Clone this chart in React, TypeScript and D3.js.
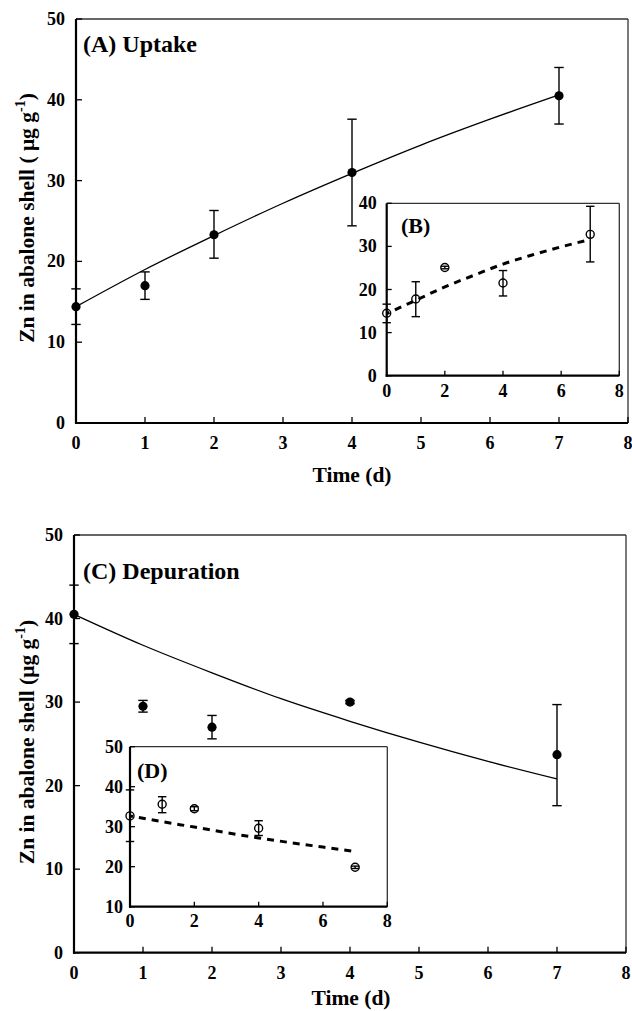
import React from 'react';
import * as d3 from 'd3';

// ---------- data ----------
const days = [0, 1, 2, 4, 7];
const fitDays = [0, 1, 2, 3, 4, 5, 6, 7];

// (A) Uptake – whole shell, filled circles
const uptakeMean = [14.4, 17.0, 23.3, 31.0, 40.5];
const uptakeUpper = [16.6, 18.7, 26.3, 37.6, 44.0];
const uptakeLower = [12.2, 15.3, 20.4, 24.4, 37.0];
const uptakeFit = [14.4, 19.0, 23.2, 27.2, 30.9, 34.4, 37.6, 40.6];

// (B) inset – open circles, dashed fit
const insetBMean = [14.5, 17.8, 25.1, 21.5, 32.8];
const insetBUpper = [16.6, 21.8, 25.4, 24.4, 39.3];
const insetBLower = [12.3, 13.7, 24.8, 18.5, 26.4];
const insetBFit = [14.4, 17.5, 20.6, 23.3, 25.9, 28.0, 29.9, 31.6];

// (C) Depuration – filled circles
const depMean = [40.5, 29.5, 27.0, 30.0, 23.7];
const depUpper = [44.0, 30.2, 28.4, 30.2, 29.7];
const depLower = [37.0, 28.8, 25.6, 29.8, 17.6];
const depFit = [40.5, 36.8, 33.5, 30.4, 27.7, 25.2, 22.9, 20.8];

// (D) inset – open circles, dashed fit
const insetDMean = [32.7, 35.6, 34.5, 29.6, 19.85];
const insetDUpper = [39.2, 37.5, 35.0, 31.5, 20.15];
const insetDLower = [26.3, 33.5, 34.0, 27.8, 19.55];
const insetDFit = [32.7, 31.25, 29.9, 28.5, 27.2, 26.0, 24.9, 23.8];

// ticks
const mainXTicks = [0, 1, 2, 3, 4, 5, 6, 7, 8];
const mainYTicks = [0, 10, 20, 30, 40, 50];
const insetXTicks = [0, 2, 4, 6, 8];
const insetBYTicks = [0, 10, 20, 30, 40];
const insetDYTicks = [10, 20, 30, 40, 50];

const FONT = '"Liberation Serif", "Times New Roman", serif';

type PanelCfg = {
  left: number; right: number; top: number; bottom: number;
  xDomain: [number, number]; yDomain: [number, number];
  xTicks: number[]; yTicks: number[];
  xLabelDy: number; yLabelDx: number;
  tickFont: number; tickLen: number;
  mean: number[]; upper: number[]; lower: number[];
  fit: number[]; dashed: boolean; open: boolean;
  capHalf: number; r: number;
  title: string; titleX: number; titleY: number; titleFont: number;
  fillBg: boolean;
};

function Panel({ c }: { c: PanelCfg }) {
  const x = d3.scaleLinear().domain(c.xDomain).range([c.left, c.right]);
  const y = d3.scaleLinear().domain(c.yDomain).range([c.bottom, c.top]);
  const line = d3
    .line<number>()
    .x((_, i) => x(fitDays[i]))
    .y((d) => y(d))
    .curve(d3.curveMonotoneX);
  return (
    <g>
      {c.fillBg && (
        <rect x={c.left} y={c.top} width={c.right - c.left} height={c.bottom - c.top} fill="#fff" />
      )}
      {/* frame: thin top/right */}
      <line x1={c.left} y1={c.top} x2={c.right} y2={c.top} stroke="#333" strokeWidth={1.3} />
      <line x1={c.right} y1={c.top} x2={c.right} y2={c.bottom} stroke="#333" strokeWidth={1.3} />
      {/* fit */}
      <path
        d={line(c.fit) || ''}
        fill="none"
        stroke="#000"
        strokeWidth={c.dashed ? 3 : 1.3}
        strokeDasharray={c.dashed ? '7 6' : undefined}
        strokeDashoffset={c.dashed ? 4 : undefined}
      />
      {/* error bars */}
      {days.map((d, i) => {
        const px = x(d);
        return (
          <g key={'e' + i} stroke="#000" strokeWidth={1.4}>
            <line x1={px} x2={px} y1={y(c.upper[i])} y2={y(c.lower[i])} />
            <line x1={px - c.capHalf} x2={px + c.capHalf} y1={y(c.upper[i])} y2={y(c.upper[i])} />
            <line x1={px - c.capHalf} x2={px + c.capHalf} y1={y(c.lower[i])} y2={y(c.lower[i])} />
          </g>
        );
      })}
      {/* markers */}
      {days.map((d, i) => (
        <circle
          key={'m' + i}
          cx={x(d)}
          cy={y(c.mean[i])}
          r={c.r}
          fill={c.open ? 'none' : '#000'}
          stroke="#000"
          strokeWidth={c.open ? 1.4 : 0}
        />
      ))}
      {/* axes: thick left/bottom */}
      <line x1={c.left} y1={c.top} x2={c.left} y2={c.bottom + 1} stroke="#000" strokeWidth={2.2} />
      <line x1={c.left - 1} y1={c.bottom} x2={c.right} y2={c.bottom} stroke="#000" strokeWidth={2.2} />
      {c.xTicks.map((t) => (
        <g key={'xt' + t}>
          <line x1={x(t)} x2={x(t)} y1={c.bottom} y2={c.bottom - c.tickLen} stroke="#000" strokeWidth={1.3} />
          <text
            x={x(t)}
            y={c.bottom + c.xLabelDy}
            textAnchor="middle"
            fontFamily={FONT}
            fontWeight="bold"
            fontSize={c.tickFont}
          >
            {t}
          </text>
        </g>
      ))}
      {c.yTicks.map((t) => (
        <g key={'yt' + t}>
          <line x1={c.left} x2={c.left + c.tickLen} y1={y(t)} y2={y(t)} stroke="#000" strokeWidth={1.3} />
          <text
            x={c.left - c.yLabelDx}
            y={y(t) + 6}
            textAnchor="end"
            fontFamily={FONT}
            fontWeight="bold"
            fontSize={c.tickFont}
          >
            {t}
          </text>
        </g>
      ))}
      <text x={c.titleX} y={c.titleY} fontFamily={FONT} fontWeight="bold" fontSize={c.titleFont}>
        {c.title}
      </text>
    </g>
  );
}

function YLabel({ cx, cy, spaced }: { cx: number; cy: number; spaced: boolean }) {
  return (
    <text
      transform={`translate(${cx},${cy}) rotate(-90)`}
      textAnchor="middle"
      fontFamily={FONT}
      fontWeight="bold"
      fontSize={21.5}
    >
      <tspan>{spaced ? 'Zn in abalone shell ( μg g' : 'Zn in abalone shell (μg g'}</tspan>
      <tspan dy={-9} fontSize={14}>-1</tspan>
      <tspan dy={9}>)</tspan>
    </text>
  );
}

export default function App() {
  const A: PanelCfg = {
    left: 76, right: 628, top: 19, bottom: 423,
    xDomain: [0, 8], yDomain: [0, 50], xTicks: mainXTicks, yTicks: mainYTicks,
    xLabelDy: 26, yLabelDx: 11, tickFont: 18, tickLen: 6,
    mean: uptakeMean, upper: uptakeUpper, lower: uptakeLower, fit: uptakeFit,
    dashed: false, open: false, capHalf: 4.7, r: 4.6,
    title: '(A) Uptake', titleX: 83, titleY: 52, titleFont: 24, fillBg: false,
  };
  const B: PanelCfg = {
    left: 386.7, right: 619.3, top: 203.3, bottom: 375.7,
    xDomain: [0, 8], yDomain: [0, 40], xTicks: insetXTicks, yTicks: insetBYTicks,
    xLabelDy: 21, yLabelDx: 10, tickFont: 18, tickLen: 5,
    mean: insetBMean, upper: insetBUpper, lower: insetBLower, fit: insetBFit,
    dashed: true, open: true, capHalf: 4.2, r: 4,
    title: '(B)', titleX: 401, titleY: 233, titleFont: 22, fillBg: true,
  };
  const C: PanelCfg = {
    left: 74, right: 626, top: 535, bottom: 952.7,
    xDomain: [0, 8], yDomain: [0, 50], xTicks: mainXTicks, yTicks: mainYTicks,
    xLabelDy: 26, yLabelDx: 11, tickFont: 18, tickLen: 6,
    mean: depMean, upper: depUpper, lower: depLower, fit: depFit,
    dashed: false, open: false, capHalf: 4.7, r: 4.6,
    title: '(C) Depuration', titleX: 83, titleY: 579, titleFont: 24, fillBg: false,
  };
  const D: PanelCfg = {
    left: 130, right: 387.3, top: 746.7, bottom: 906.7,
    xDomain: [0, 8], yDomain: [10, 50], xTicks: insetXTicks, yTicks: insetDYTicks,
    xLabelDy: 20, yLabelDx: 7, tickFont: 18, tickLen: 5,
    mean: insetDMean, upper: insetDUpper, lower: insetDLower, fit: insetDFit,
    dashed: true, open: true, capHalf: 4.2, r: 4,
    title: '(D)', titleX: 137, titleY: 778, titleFont: 22, fillBg: true,
  };
  return (
    <svg
      width={632}
      height={1011}
      style={{ position: 'absolute', left: 0, top: 0, background: '#fff' }}
    >
      <rect width={632} height={1011} fill="#fff" />
      <Panel c={A} />
      <Panel c={B} />
      <text x={352} y={482} textAnchor="middle" fontFamily={FONT} fontWeight="bold" fontSize={21.5}>
        Time (d)
      </text>
      <YLabel cx={34} cy={218} spaced={true} />
      <Panel c={C} />
      <Panel c={D} />
      <text x={351} y={1005} textAnchor="middle" fontFamily={FONT} fontWeight="bold" fontSize={21.5}>
        Time (d)
      </text>
      <YLabel cx={34} cy={742} spaced={false} />
    </svg>
  );
}
